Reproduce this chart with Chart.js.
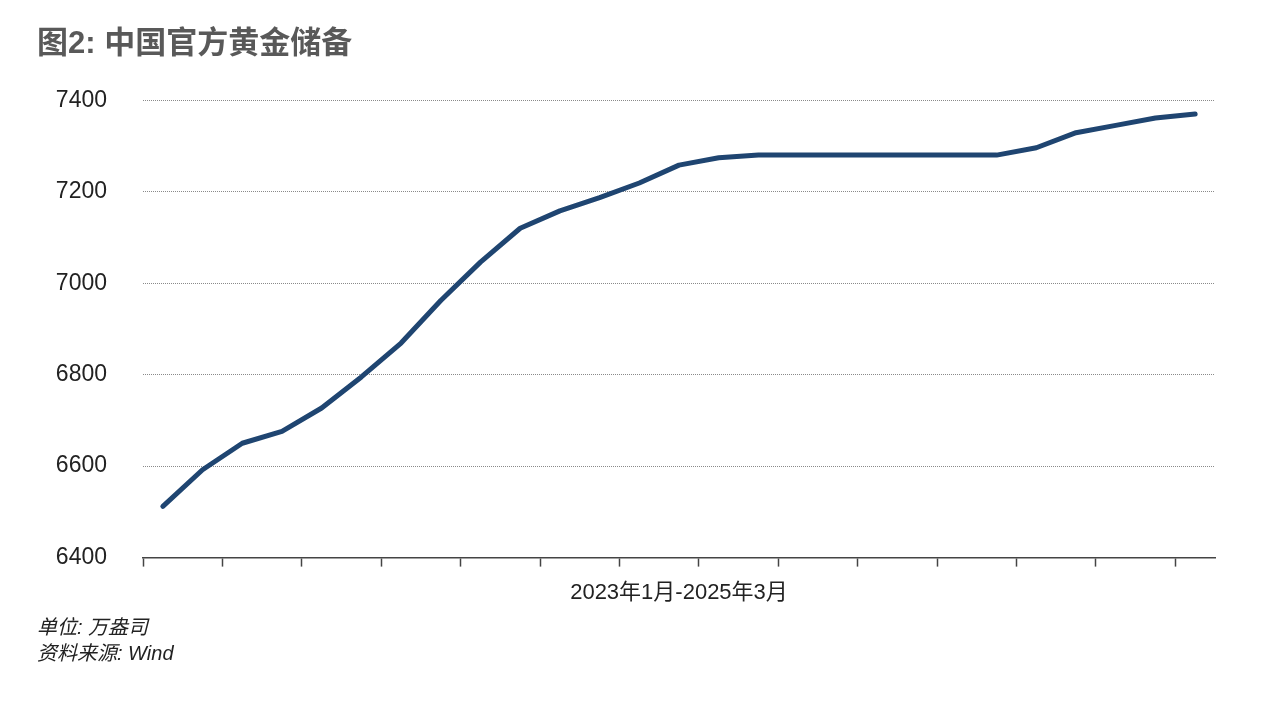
<!DOCTYPE html>
<html>
<head>
<meta charset="utf-8">
<script src="https://cdn.jsdelivr.net/npm/chart.js@4/dist/chart.umd.min.js"></script>
<style>
	body { margin: 0; background: #fff; }
	canvas { display: block; }
</style>
</head>
<body>
<canvas id="chart" width="1280" height="701"></canvas>
<script>
var months = ['2023-01','2023-02','2023-03','2023-04','2023-05','2023-06','2023-07','2023-08','2023-09','2023-10','2023-11','2023-12',
	'2024-01','2024-02','2024-03','2024-04','2024-05','2024-06','2024-07','2024-08','2024-09','2024-10','2024-11','2024-12',
	'2025-01','2025-02','2025-03'];
var reserves = [6512, 6592, 6650, 6676, 6727, 6795, 6869, 6962, 7046, 7120, 7158, 7187,
	7219, 7258, 7274, 7280, 7280, 7280, 7280, 7280, 7280, 7280, 7296, 7329,
	7345, 7361, 7370];
var yTicks = [6400, 6600, 6800, 7000, 7200, 7400];

var titleText = '图2: 中国官方黄金储备';
var xTitle = '2023年1月-2025年3月';
var notes = ['单位: 万盎司', '资料来源: Wind'];

var fontFamily = '"Liberation Sans", "Noto Sans CJK SC", sans-serif';

window.onload = function() {
	var echart = document.getElementById('chart');
	new Chart(echart, {
		type: 'line',
		data: {
			labels: months,
			datasets: [{
				data: reserves,
				borderColor: '#1f4571',
				borderWidth: 5,
				pointRadius: 0,
				tension: 0,
				borderCapStyle: 'round',
				borderJoinStyle: 'round',
				fill: false
			}]
		},
		options: {
			responsive: false,
			animation: false,
			layout: { padding: { left: 37, right: 65, top: 0, bottom: 0 } },
			plugins: {
				legend: { display: false },
				tooltip: { enabled: false },
				title: {
					display: true,
					text: titleText,
					align: 'start',
					color: '#595959',
					font: { family: fontFamily, size: 31, weight: 'bold', lineHeight: 1.2 },
					padding: { top: 26, bottom: 37 }
				},
				subtitle: {
					display: true,
					position: 'bottom',
					text: notes,
					align: 'start',
					color: '#222',
					font: { family: fontFamily, size: 20, style: 'italic', lineHeight: 1.3 },
					padding: { top: 4, bottom: 34 }
				}
			},
			scales: {
				x: {
					offset: true,
					grid: {
						offset: true,
						drawOnChartArea: false,
						drawTicks: true,
						tickLength: 9,
						tickWidth: 1.5,
						tickColor: function(ctx) {
							return (ctx.index % 2 === 0) ? '#444' : 'transparent';
						}
					},
					border: { display: true, color: '#444', width: 1.5 },
					ticks: { display: false, autoSkip: false },
					title: {
						display: true,
						text: xTitle,
						color: '#222',
						font: { family: fontFamily, size: 22, lineHeight: 1.2 },
						padding: { top: 13, bottom: 5 }
					}
				},
				y: {
					min: 6400,
					max: 7400,
					afterBuildTicks: function(scale) {
						scale.ticks = yTicks.map(function(v) { return { value: v }; });
					},
					afterFit: function(scale) {
						scale.width = 106;
					},
					grid: {
						drawTicks: false,
						color: '#8a8a8a',
						lineWidth: 1
					},
					border: { display: false, dash: [1, 1] },
					ticks: {
						color: '#222',
						padding: 36,
						font: { family: fontFamily, size: 23 },
						callback: function(value) { return String(value); }
					}
				}
			}
		}
	});
};
</script>
</body>
</html>
